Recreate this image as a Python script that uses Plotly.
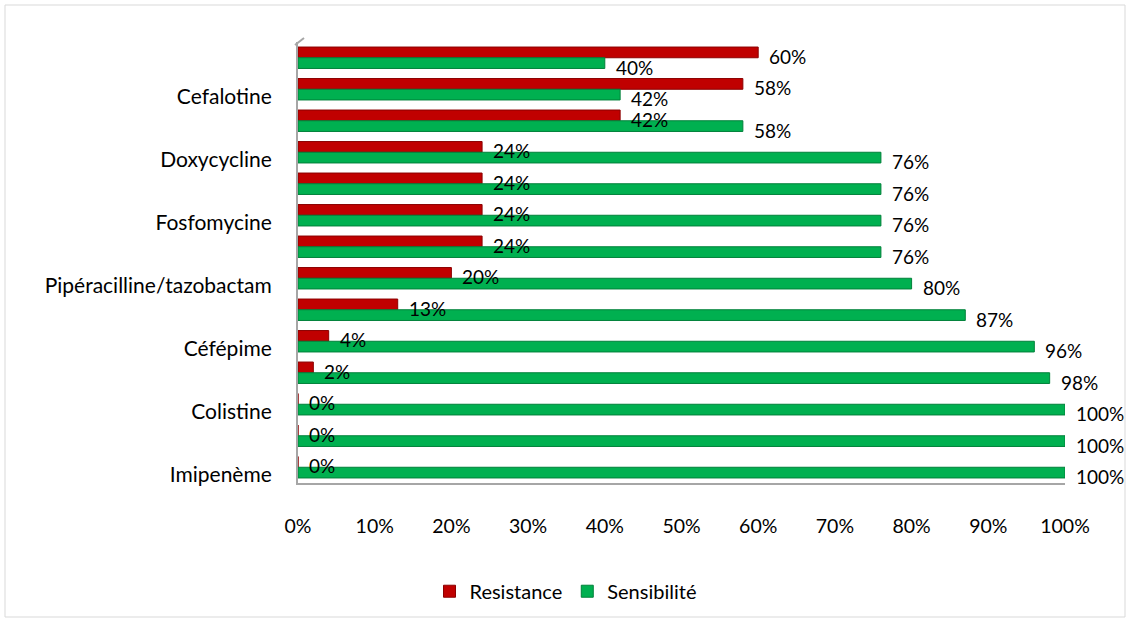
import plotly.graph_objects as go

# Rows from top to bottom; only every other row carries a name on the axis
row_labels = ["", "Cefalotine", "", "Doxycycline", "", "Fosfomycine", "",
              "Pipéracilline/tazobactam", "", "Céfépime", "", "Colistine", "",
              "Imipenème"]
resistance = [60, 58, 42, 24, 24, 24, 24, 20, 13, 4, 2, 0, 0, 0]
sensibilite = [40, 42, 58, 76, 76, 76, 76, 80, 87, 96, 98, 100, 100, 100]
x_ticks = [0, 10, 20, 30, 40, 50, 60, 70, 80, 90, 100]

RED = "#C00000"
GREEN = "#00B050"
FONT = "Lato"
rows = list(range(len(row_labels)))

W, H = 1131, 623
L, R, T, B = 298, 66, 42, 140
BARGAP = 0.32

fig = go.Figure()
fig.add_trace(go.Bar(
    y=rows, x=[v / 100 for v in resistance], orientation="h", name="Resistance",
    marker=dict(color=RED, line=dict(color="#8B0000", width=1)),
))
fig.add_trace(go.Bar(
    y=rows, x=[v / 100 for v in sensibilite], orientation="h", name="Sensibilité",
    marker=dict(color=GREEN, line=dict(color="#00803A", width=1)),
))

# value labels just right of each bar end, sitting slightly low
half = (1 - BARGAP) / 4
annotations = []
for i in rows:
    for vals, off in ((resistance, -half), (sensibilite, half)):
        annotations.append(dict(
            x=vals[i] / 100, y=i + off, xref="x", yref="y",
            text=f"{vals[i]}%", showarrow=False, xanchor="left",
            xshift=9, yshift=-4, font=dict(family=FONT, size=19, color="#000"),
        ))

pw = W - L - R
ph = H - T - B
shapes = [
    # light frame around the whole chart
    dict(type="rect", xref="paper", yref="paper",
         x0=(5 - L) / pw, x1=(W - 6 - L) / pw,
         y0=(H - B - (H - 6)) / ph, y1=(H - B - 5) / ph,
         line=dict(color="#D9D9D9", width=1), fillcolor="rgba(0,0,0,0)",
         layer="below"),
    # small bevel at the top of the back wall
    dict(type="line", xref="paper", yref="paper",
         x0=-3 / pw, y0=1 - 3 / ph, x1=6 / pw, y1=1 + 4 / ph,
         line=dict(color="#A6A6A6", width=2)),
]

fig.update_layout(
    width=W, height=H,
    margin=dict(l=L, r=R, t=T, b=B),
    paper_bgcolor="white", plot_bgcolor="white",
    barmode="group", bargap=BARGAP, bargroupgap=0,
    font=dict(family=FONT, size=20, color="#000"),
    showlegend=True,
    legend=dict(orientation="h", xref="container", yref="container",
                x=0.5, xanchor="center", y=0.051, yanchor="middle",
                font=dict(family=FONT, size=20), itemwidth=30,
                traceorder="normal"),
    annotations=annotations,
    shapes=shapes,
)
fig.update_xaxes(
    range=[0, 1], tickvals=[t / 100 for t in x_ticks],
    ticktext=[f"{t}%" for t in x_ticks], tickfont=dict(size=19.5),
    showgrid=False, zeroline=False, showline=True, linecolor="#A6A6A6", linewidth=2,
    ticks="outside", ticklen=25, tickcolor="rgba(0,0,0,0)",
)
# names sit a touch below the middle of their row
fig.update_yaxes(
    range=[13.5, -0.5], tickvals=[r + 0.25 for r in rows], ticktext=row_labels,
    tickfont=dict(size=21),
    showgrid=False, zeroline=False, showline=True, linecolor="#A6A6A6", linewidth=2,
    ticks="outside", ticklen=20, tickcolor="rgba(0,0,0,0)",
)

fig.write_html("out.html")
